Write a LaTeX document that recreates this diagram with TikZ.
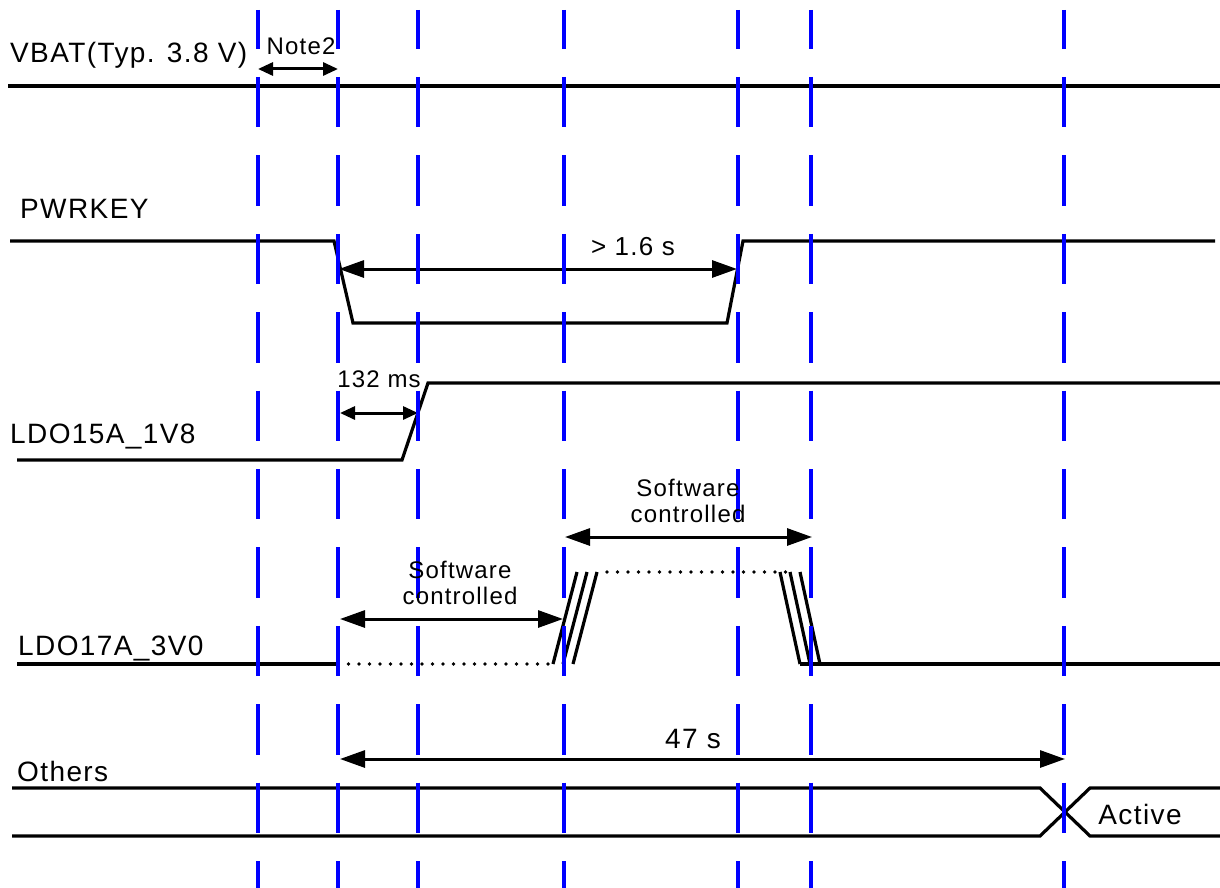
\documentclass[tikz,border=0pt]{standalone}
\usepackage{xcolor}
\usepackage{tikz}
\usepackage{fontspec}
\setmainfont{Liberation Sans}[LetterSpace=5]
\usetikzlibrary{arrows.meta}
\pgfdeclarelayer{nodelayer}
\pgfdeclarelayer{edgelayer}
\pgfsetlayers{edgelayer,nodelayer,main}
\tikzstyle{none}=[fill=none, draw=none, shape=circle, scale=0]
\tikzstyle{tag style}=[fill=none, draw=none, inner sep=0pt, font=\fontsize{28}{32}\selectfont]
\tikzstyle{note style}=[fill=none, draw=none, inner sep=0pt, align=center, font=\fontsize{24}{26}\selectfont]
\tikzstyle{wave edge}=[draw=black, line width=3.2pt]
\tikzstyle{dots edge}=[draw=black, line width=3.6pt, line cap=round, dash pattern=on 0pt off 10.5pt]
\tikzstyle{guide edge}=[draw=blue, line width=3.2pt, dash pattern=on 50.4pt off 28pt, dash phase=11.4pt]
\tikzstyle{span edge}=[draw=black, line width=3pt, {Triangle[length=25pt, width=17pt]}-{Triangle[length=25pt, width=17pt]}]
\tikzstyle{short span edge}=[draw=black, line width=3pt, {Triangle[length=15pt, width=13pt]}-{Triangle[length=15pt, width=13pt]}]

\begin{document}
\begin{tikzpicture}[x=1pt, y=-1pt]
	\useasboundingbox (0, 0) rectangle (1220, 888);
	\begin{pgfonlayer}{nodelayer}
		\node [style=none] (0) at (258, 10) {};
		\node [style=none] (1) at (258, 888) {};
		\node [style=none] (2) at (338, 10) {};
		\node [style=none] (3) at (338, 888) {};
		\node [style=none] (4) at (418, 10) {};
		\node [style=none] (5) at (418, 888) {};
		\node [style=none] (6) at (564, 10) {};
		\node [style=none] (7) at (564, 888) {};
		\node [style=none] (8) at (738, 10) {};
		\node [style=none] (9) at (738, 888) {};
		\node [style=none] (10) at (811, 10) {};
		\node [style=none] (11) at (811, 888) {};
		\node [style=none] (12) at (1064, 10) {};
		\node [style=none] (13) at (1064, 888) {};
		\node [style=none] (14) at (8, 86) {};
		\node [style=none] (15) at (1220, 86) {};
		\node [style=none] (16) at (10, 241) {};
		\node [style=none] (17) at (334, 241) {};
		\node [style=none] (18) at (353, 323) {};
		\node [style=none] (19) at (727, 323) {};
		\node [style=none] (20) at (743, 241) {};
		\node [style=none] (21) at (1215, 241) {};
		\node [style=none] (22) at (17, 460) {};
		\node [style=none] (23) at (402, 460) {};
		\node [style=none] (24) at (428, 383) {};
		\node [style=none] (25) at (1220, 383) {};
		\node [style=none] (26) at (17, 664) {};
		\node [style=none] (27) at (338, 664) {};
		\node [style=none] (28) at (553, 664) {};
		\node [style=none] (29) at (577, 572) {};
		\node [style=none] (30) at (563, 664) {};
		\node [style=none] (31) at (587, 572) {};
		\node [style=none] (32) at (573, 664) {};
		\node [style=none] (33) at (597, 572) {};
		\node [style=none] (34) at (607, 572) {};
		\node [style=none] (35) at (792, 572) {};
		\node [style=none] (36) at (780, 572) {};
		\node [style=none] (37) at (800, 664) {};
		\node [style=none] (38) at (790, 572) {};
		\node [style=none] (39) at (810, 664) {};
		\node [style=none] (40) at (800, 572) {};
		\node [style=none] (41) at (820, 664) {};
		\node [style=none] (42) at (1220, 664) {};
		\node [style=none] (43) at (12, 788) {};
		\node [style=none] (44) at (1040, 788) {};
		\node [style=none] (45) at (1090, 836) {};
		\node [style=none] (46) at (1220, 836) {};
		\node [style=none] (47) at (12, 836) {};
		\node [style=none] (48) at (1040, 836) {};
		\node [style=none] (49) at (1090, 788) {};
		\node [style=none] (50) at (1220, 788) {};
		\node [style=none] (51) at (258, 69) {};
		\node [style=none] (52) at (338, 69) {};
		\node [style=none] (53) at (339, 269) {};
		\node [style=none] (54) at (737, 269) {};
		\node [style=none] (55) at (340, 413) {};
		\node [style=none] (56) at (418, 413) {};
		\node [style=none] (57) at (340, 619) {};
		\node [style=none] (58) at (563, 619) {};
		\node [style=none] (59) at (565, 537) {};
		\node [style=none] (60) at (812, 537) {};
		\node [style=none] (61) at (340, 759) {};
		\node [style=none] (62) at (1065, 759) {};
		\node [style=tag style, anchor=base west] (63) at (10, 63) {VBAT(Typ. 3.8 V)};
		\node [style=note style, anchor=base] (64) at (301, 55) {Note2};
		\node [style=tag style, anchor=base west] (65) at (20, 218) {PWRKEY};
		\node [style=note style, anchor=base, font=\fontsize{26}{28}\selectfont] (66) at (633, 255) {> 1.6 s};
		\node [style=tag style, anchor=base west] (67) at (10, 443) {LDO15A\_1V8};
		\node [style=note style, anchor=base] (68) at (379, 387) {132 ms};
		\node [style=tag style, anchor=base west] (69) at (18, 655) {LDO17A\_3V0};
		\node [style=note style] (70) at (460, 583) {Software\\controlled};
		\node [style=note style] (71) at (688, 501) {Software\\controlled};
		\node [style=tag style, anchor=base] (72) at (693, 748) {47 s};
		\node [style=tag style, anchor=base west] (73) at (17, 781) {Others};
		\node [style=tag style, anchor=base] (74) at (1140, 824) {Active};
	\end{pgfonlayer}
	\begin{pgfonlayer}{edgelayer}
		\draw [style=wave edge] (14.center) to (15.center);
		\draw [style=wave edge] (16.center) to (17.center) to (18.center) to (19.center) to (20.center) to (21.center);
		\draw [style=wave edge] (22.center) to (23.center) to (24.center) to (25.center);
		\draw [style=wave edge] (26.center) to (27.center);
		\draw [style=dots edge] (27.center) to (28.center);
		\draw [style=wave edge] (28.center) to (29.center);
		\draw [style=wave edge] (30.center) to (31.center);
		\draw [style=wave edge] (32.center) to (33.center);
		\draw [style=dots edge] (34.center) to (35.center);
		\draw [style=wave edge] (36.center) to (37.center);
		\draw [style=wave edge] (38.center) to (39.center);
		\draw [style=wave edge] (40.center) to (41.center);
		\draw [style=wave edge] (37.center) to (42.center);
		\draw [style=wave edge] (43.center) to (44.center) to (45.center) to (46.center);
		\draw [style=wave edge] (47.center) to (48.center) to (49.center) to (50.center);
		\draw [style=short span edge] (51.center) to (52.center);
		\draw [style=span edge] (53.center) to (54.center);
		\draw [style=short span edge] (55.center) to (56.center);
		\draw [style=span edge] (57.center) to (58.center);
		\draw [style=span edge] (59.center) to (60.center);
		\draw [style=span edge] (61.center) to (62.center);
		\draw [style=guide edge] (0.center) to (1.center);
		\draw [style=guide edge] (2.center) to (3.center);
		\draw [style=guide edge] (4.center) to (5.center);
		\draw [style=guide edge] (6.center) to (7.center);
		\draw [style=guide edge] (8.center) to (9.center);
		\draw [style=guide edge] (10.center) to (11.center);
		\draw [style=guide edge] (12.center) to (13.center);
	\end{pgfonlayer}
\end{tikzpicture}
\end{document}
